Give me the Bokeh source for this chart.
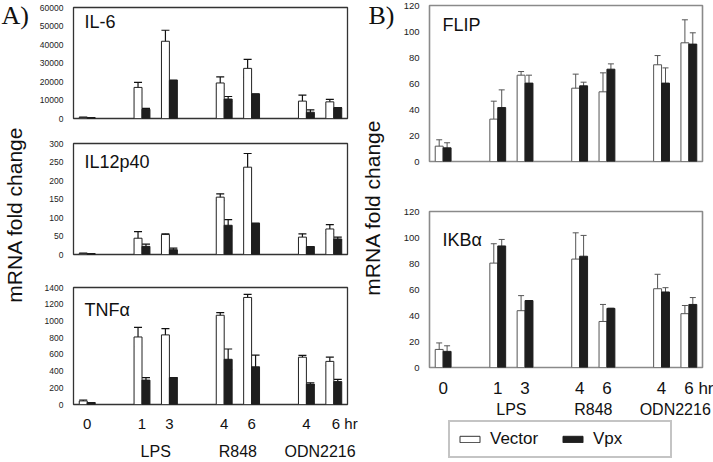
import math
import numpy as np
from bokeh.plotting import figure
from bokeh.models import (Range1d, FixedTicker, SingleIntervalTicker, LinearAxis, Whisker,
                          TeeHead, ColumnDataSource, Label, Legend, LegendItem)
from bokeh.layouts import row, column
from bokeh.embed import file_html
from bokeh.resources import INLINE

# ---------------- data ----------------
groups = ["", "LPS", "R848", "ODN2216"]
group_times = [["0"], ["1", "3"], ["4", "6"], ["4", "6 hr"]]
series_names = ["Vector", "Vpx"]

il6_vector = [600, 16800, 41750, 19200, 27100, 9400, 9000]
il6_vector_err = [0, 2700, 5950, 3250, 4900, 3250, 1300]
il6_vpx = [400, 5000, 20600, 10500, 13200, 3400, 5800]
il6_vpx_err = [0, 500, 0, 1400, 0, 1300, 0]

il12_vector = [3, 44, 54, 155, 236, 47, 69]
il12_vector_err = [0, 18, 2, 9, 37, 9, 12]
il12_vpx = [2, 22, 13, 79, 84, 21, 42]
il12_vpx_err = [0, 6, 4, 15, 0, 0, 5]

tnf_vector = [43, 808, 833, 1068, 1281, 566, 516]
tnf_vector_err = [11, 116, 76, 32, 36, 22, 50]
tnf_vpx = [22, 292, 321, 541, 451, 245, 274]
tnf_vpx_err = [0, 29, 0, 123, 141, 15, 26]

flip_vector = [11.8, 32.6, 66.4, 56.4, 53.6, 74.4, 91.3]
flip_vector_err = [4.9, 13.8, 2.8, 10.8, 14.6, 7.1, 17.7]
flip_vpx = [10.5, 41.5, 60.3, 58.2, 71.0, 60.3, 90.3]
flip_vpx_err = [3.9, 13.6, 6.1, 2.8, 4.1, 11.7, 8.7]

ikb_vector = [13.9, 80.3, 43.7, 83.4, 35.4, 60.6, 41.4]
ikb_vector_err = [5.0, 14.9, 11.6, 20.2, 13.1, 11.1, 6.3]
ikb_vpx = [12.4, 93.5, 51.5, 85.6, 45.5, 58.1, 48.5]
ikb_vpx_err = [4.3, 5.0, 0, 16.0, 0, 3.3, 5.3]

# ---------------- slot layout (from group structure) ----------------
positions, tick_labels, group_centers = [], [], []
slot = 0
for gi, ts in enumerate(group_times):
    gpos = []
    for t in ts:
        gpos.append(slot + 0.5)
        tick_labels.append(t)
        slot += 1
    positions += gpos
    group_centers.append(sum(gpos) / len(gpos))
    if gi < len(group_times) - 1:
        slot += 1
N_SLOTS = slot
BAR_W = 0.29
label_pos = [p + (0.4 if " " in t else 0.0) for p, t in zip(positions, tick_labels)]

FONT = "Liberation Sans"
VPX_FILL = "#1e1e1e"

LEFT = dict(outline="#333333", outline_w=1.3, bar_line="#222222", whisk="#111111",
            whisk_w=1.2, head=8, ytick_size="8.5px", xtick_size="15px", group_size="16px",
            title_size="18px", x_standoff=10, g_standoff=8, title_dx=11)
RIGHT = dict(outline="#8a8a8a", outline_w=1.6, bar_line="#555555", whisk="#555555",
             whisk_w=1.0, head=6, ytick_size="9.5px", xtick_size="17px", group_size="16px",
             title_size="18px", x_standoff=11, g_standoff=0, title_dx=13)


def make_panel(title, vec, vec_err, vpx, vpx_err, ymax, ystep, width, height,
               b_left, b_right, b_top, b_bottom, st, show_x, title_dy):
    p = figure(width=width, height=height, x_range=Range1d(0, N_SLOTS),
               y_range=Range1d(0, ymax), toolbar_location=None, output_backend="svg",
               min_border_left=b_left, min_border_right=b_right,
               min_border_top=b_top, min_border_bottom=b_bottom)
    p.grid.visible = False
    p.outline_line_color = st["outline"]
    p.outline_line_width = st["outline_w"]
    p.background_fill_color = "white"
    p.border_fill_color = "white"

    xv = [x - BAR_W / 2 for x in positions]
    xp = [x + BAR_W / 2 for x in positions]
    src_v = ColumnDataSource(dict(x=xv, top=vec, lo=[a - e for a, e in zip(vec, vec_err)],
                                  hi=[a + e for a, e in zip(vec, vec_err)]))
    src_p = ColumnDataSource(dict(x=xp, top=vpx, lo=[a - e for a, e in zip(vpx, vpx_err)],
                                  hi=[a + e for a, e in zip(vpx, vpx_err)]))
    p.vbar(x="x", top="top", width=BAR_W, bottom=0, source=src_v, fill_color="white",
           line_color=st["bar_line"], line_width=1)
    p.vbar(x="x", top="top", width=BAR_W, bottom=0, source=src_p, fill_color=VPX_FILL,
           line_color=VPX_FILL, line_width=1)
    for src in (src_v, src_p):
        w = Whisker(base="x", upper="hi", lower="lo", source=src,
                    line_color=st["whisk"], line_width=st["whisk_w"],
                    upper_head=TeeHead(size=st["head"], line_color=st["whisk"], line_width=st["whisk_w"]),
                    lower_head=TeeHead(size=st["head"], line_color=st["whisk"], line_width=st["whisk_w"]))
        p.add_layout(w)

    ya = p.yaxis[0]
    ya.ticker = SingleIntervalTicker(interval=ystep)
    ya.axis_line_color = None
    ya.major_tick_line_color = None
    ya.minor_tick_line_color = None
    ya.major_tick_out = 0
    ya.major_tick_in = 0
    ya.major_label_text_font = FONT
    ya.major_label_text_font_size = st["ytick_size"]
    ya.major_label_text_color = "#222222"
    ya.major_label_standoff = 6

    xa = p.xaxis[0]
    if show_x:
        xa.ticker = FixedTicker(ticks=label_pos)
        xa.major_label_overrides = {lp: t for lp, t in zip(label_pos, tick_labels)}
        xa.axis_line_color = None
        xa.major_tick_line_color = None
        xa.minor_tick_line_color = None
        xa.major_tick_out = 0
        xa.major_tick_in = 0
        xa.major_label_text_font = FONT
        xa.major_label_text_font_size = st["xtick_size"]
        xa.major_label_text_color = "#111111"
        xa.major_label_standoff = st["x_standoff"]
        gc = group_centers[1:]
        ga = LinearAxis(ticker=FixedTicker(ticks=gc),
                        major_label_overrides={c: g for c, g in zip(gc, groups[1:])},
                        axis_line_color=None, major_tick_line_color=None,
                        minor_tick_line_color=None, major_tick_out=0, major_tick_in=0,
                        major_label_text_font=FONT,
                        major_label_text_font_size=st["group_size"],
                        major_label_text_color="#111111", major_label_standoff=st["g_standoff"])
        p.add_layout(ga, "below")
    else:
        xa.visible = False

    p.add_layout(Label(x=0, y=ymax, x_offset=st["title_dx"], y_offset=-title_dy, text=title,
                       text_baseline="top", text_align="left", text_font=FONT,
                       text_font_size=st["title_size"], text_color="#111111"))
    return p


def label_fig(width, height, letter, letter_x, ylabel_x, ylabel_y):
    f = figure(width=width, height=height, x_range=Range1d(0, width), y_range=Range1d(0, height),
               toolbar_location=None, output_backend="svg", min_border=0)
    f.axis.visible = False
    f.grid.visible = False
    f.outline_line_color = None
    f.add_layout(Label(x=letter_x, y=height, text=letter, text_baseline="top", text_align="left",
                       text_font="Liberation Serif", text_font_size="26px", text_color="#111111"))
    f.add_layout(Label(x=ylabel_x, y=ylabel_y, text="mRNA fold change", angle=math.pi / 2,
                       text_align="center", text_baseline="middle", text_font=FONT,
                       text_font_size="21px", text_color="#111111"))
    return f


def legend_fig(width, height, b_left, b_right):
    # legend-only strip: placeholder (non-drawn) swatch renderers for the two series
    f = figure(width=width, height=height, x_range=Range1d(0, 1), y_range=Range1d(0, 1),
               toolbar_location=None, output_backend="svg", min_border_left=b_left,
               min_border_right=b_right, min_border_top=0, min_border_bottom=0)
    f.axis.visible = False
    f.grid.visible = False
    f.outline_line_color = None
    rv = f.vbar(x=np.array([np.nan]), top=np.array([np.nan]), bottom=0, width=BAR_W,
                fill_color="white", line_color="#333333", line_width=1)
    rp = f.vbar(x=np.array([np.nan]), top=np.array([np.nan]), bottom=0, width=BAR_W,
                fill_color=VPX_FILL, line_color=VPX_FILL, line_width=1)
    legend = Legend(items=[LegendItem(label=series_names[0], renderers=[rv]),
                           LegendItem(label=series_names[1], renderers=[rp])],
                    orientation="horizontal", location=(19, 4),
                    glyph_width=25, glyph_height=8, label_standoff=8, label_width=70,
                    spacing=0, padding=7, margin=0,
                    label_text_font=FONT, label_text_font_size="17px", label_text_color="#111111",
                    border_line_color="#8a8a8a", border_line_width=2,
                    background_fill_color="white", background_fill_alpha=1)
    f.add_layout(legend)
    return f


H = 462
# left column (x 0..360)
pA1 = make_panel("IL-6", il6_vector, il6_vector_err, il6_vpx, il6_vpx_err, 60000, 10000,
                 324, 125, 36, 13, 7, 7, LEFT, False, 4.5)
pA2 = make_panel("IL12p40", il12_vector, il12_vector_err, il12_vpx, il12_vpx_err, 300, 50,
                 324, 137, 36, 13, 18, 8, LEFT, False, 8.5)
pA3 = make_panel("TNFα", tnf_vector, tnf_vector_err, tnf_vpx, tnf_vpx_err, 1400, 200,
                 324, 200, 36, 13, 25, 54, LEFT, True, 12.5)
labA = label_fig(36, H, "A)", 1, 14, H - 214)

# right column (x 360..713)
pB1 = make_panel("FLIP", flip_vector, flip_vector_err, flip_vpx, flip_vpx_err, 120, 20,
                 313, 175, 27, 11, 5, 14, RIGHT, False, 9.5)
pB2 = make_panel("IKBα", ikb_vector, ikb_vector_err, ikb_vpx, ikb_vpx_err, 120, 20,
                 313, 245, 27, 11, 36, 51, RIGHT, True, 18.5)
pLeg = legend_fig(313, 42, 27, 11)
labB = label_fig(40, H, "B)", 8, 12, H - 207)

layout = row(labA, column(pA1, pA2, pA3), labB, column(pB1, pB2, pLeg))

open("out.html", "w").write(file_html(layout, INLINE))
